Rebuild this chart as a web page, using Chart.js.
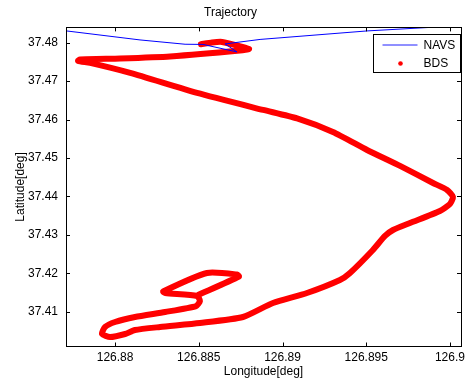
<!DOCTYPE html>
<html>
<head>
<meta charset="utf-8">
<script src="https://cdn.jsdelivr.net/npm/chart.js@4"></script>
<style>
  html, body { margin: 0; padding: 0; background: #fff; }
  #wrap { width: 470px; height: 385px; }
</style>
</head>
<body>
<div id="wrap"><canvas id="myChart" width="470" height="385"></canvas></div>
<script>
// NAVS reference track (only the part that crosses the plot)
const navsLon = [126.87660, 126.87710, 126.88149, 126.88418, 126.88525, 126.88728, 126.88657, 126.88866, 126.89505, 126.89881, 126.90120];
const navsLat = [37.48320, 37.48304, 37.48070, 37.47958, 37.47953, 37.47758, 37.47966, 37.48083, 37.48304, 37.48396, 37.48461];

// BDS track
const bdsLon = [126.88513, 126.88579, 126.88639, 126.88800, 126.88746, 126.88328, 126.88030, 126.87791, 126.87779, 126.87851,
                126.88090, 126.88490, 126.88884, 126.89087, 126.89301, 126.89505, 126.89702, 126.89899, 126.89983, 126.90018,
                126.90000, 126.89940, 126.89761, 126.89660, 126.89612, 126.89540, 126.89403, 126.89343, 126.89146, 126.88943,
                126.88764, 126.88507, 126.88269, 126.88119, 126.88060, 126.87970, 126.87922, 126.87940, 126.88000, 126.88119,
                126.88299, 126.88484, 126.88507, 126.88490, 126.88299, 126.88287, 126.88549, 126.88728, 126.88740, 126.88496];
const bdsLat = [37.47958, 37.48005, 37.48018, 37.47836, 37.47794, 37.47641, 37.47589, 37.47563, 37.47524, 37.47472,
                37.47212, 37.46691, 37.46249, 37.46028, 37.45676, 37.45208, 37.44792, 37.44349, 37.44167, 37.43985,
                37.43803, 37.43620, 37.43308, 37.43126, 37.42970, 37.42606, 37.42007, 37.41825, 37.41487, 37.41227,
                37.40862, 37.40706, 37.40602, 37.40524, 37.40420, 37.40342, 37.40420, 37.40602, 37.40732, 37.40862,
                37.40992, 37.41148, 37.41279, 37.41409, 37.41487, 37.41526, 37.42007, 37.41968, 37.41916, 37.41435];

const xTicks = [126.88, 126.885, 126.89, 126.895, 126.9];
const xTickLabels = ['126.88', '126.885', '126.89', '126.895', '126.9'];
const yTicks = [37.41, 37.42, 37.43, 37.44, 37.45, 37.46, 37.47, 37.48];
const yTickLabels = ['37.41', '37.42', '37.43', '37.44', '37.45', '37.46', '37.47', '37.48'];

const FONT = 'Liberation Sans, Arial, Helvetica, sans-serif';

function toPoints(xs, ys) {
    return xs.map((x, i) => ({ x: x, y: ys[i] }));
}

// matlab style box with inward ticks + legend inside the axes
const boxPlugin = {
    id: 'box',
    afterDraw(chart) {
        const ctx = chart.ctx;
        const a = chart.chartArea;
        const xs = chart.scales.x, ys = chart.scales.y;
        ctx.save();
        ctx.strokeStyle = '#000';
        ctx.lineWidth = 1;
        ctx.strokeRect(Math.round(a.left) + 0.5, Math.round(a.top) + 0.5,
                       Math.round(a.right - a.left), Math.round(a.bottom - a.top));
        ctx.beginPath();
        xTicks.forEach(v => {
            const px = Math.round(xs.getPixelForValue(v)) + 0.5;
            ctx.moveTo(px, a.bottom); ctx.lineTo(px, a.bottom - 4);
            ctx.moveTo(px, a.top); ctx.lineTo(px, a.top + 4);
        });
        yTicks.forEach(v => {
            const py = Math.round(ys.getPixelForValue(v)) + 0.5;
            ctx.moveTo(a.left, py); ctx.lineTo(a.left + 4, py);
            ctx.moveTo(a.right, py); ctx.lineTo(a.right - 4, py);
        });
        ctx.stroke();

        // legend
        const lx = Math.round(a.right) - 88 + 0.5, ly = Math.round(a.top) + 7 + 0.5;
        ctx.fillStyle = '#fff';
        ctx.fillRect(lx, ly, 87, 38);
        ctx.strokeRect(lx, ly, 87, 38);
        ctx.strokeStyle = '#2020ff';
        ctx.beginPath();
        ctx.moveTo(lx + 9, ly + 10.5); ctx.lineTo(lx + 44, ly + 10.5);
        ctx.stroke();
        ctx.fillStyle = '#ff0000';
        ctx.beginPath();
        ctx.arc(lx + 27, ly + 29, 2.3, 0, Math.PI * 2);
        ctx.fill();
        ctx.fillStyle = '#000';
        ctx.font = '12px ' + FONT;
        ctx.textBaseline = 'middle';
        ctx.textAlign = 'left';
        ctx.fillText(chart.data.datasets[0].label, lx + 50, ly + 11);
        ctx.fillText(chart.data.datasets[1].label, lx + 50, ly + 29);
        ctx.restore();
    }
};

const ctx = document.getElementById('myChart').getContext('2d');
new Chart(ctx, {
    type: 'scatter',
    data: {
        datasets: [{
            label: 'NAVS',
            data: toPoints(navsLon, navsLat),
            showLine: true,
            borderColor: '#0000ff',
            borderWidth: 1,
            pointRadius: 0,
            clip: 0
        }, {
            label: 'BDS',
            data: toPoints(bdsLon, bdsLat),
            showLine: true,
            borderColor: '#ff0000',
            borderWidth: 6,
            borderJoinStyle: 'round',
            borderCapStyle: 'round',
            pointRadius: 0,
            tension: 0.2
        }]
    },
    options: {
        responsive: false,
        animation: false,
        layout: { padding: { left: 0, right: 9, top: 0, bottom: 0 } },
        plugins: {
            legend: { display: false },
            tooltip: { enabled: false },
            title: {
                display: true,
                text: 'Trajectory',
                color: '#000',
                font: { family: FONT, size: 12, weight: 'normal' },
                padding: { top: 5.5, bottom: 7.5 }
            }
        },
        scales: {
            x: {
                type: 'linear',
                min: 126.87707,
                max: 126.90066,
                grid: { display: false, drawTicks: false },
                border: { display: false },
                afterBuildTicks: s => { s.ticks = xTicks.map(v => ({ value: v })); },
                afterFit: s => { s.height = 38.5; },
                ticks: {
                    color: '#000',
                    padding: 4,
                    maxRotation: 0,
                    autoSkip: false,
                    font: { family: FONT, size: 12 },
                    callback: (v, i) => xTickLabels[i]
                },
                title: {
                    display: true,
                    text: 'Longitude[deg]',
                    color: '#000',
                    font: { family: FONT, size: 12 },
                    padding: { top: 0, bottom: 6 }
                }
            },
            y: {
                type: 'linear',
                min: 37.40095,
                max: 37.48396,
                grid: { display: false, drawTicks: false },
                border: { display: false },
                afterBuildTicks: s => { s.ticks = yTicks.map(v => ({ value: v })); },
                afterFit: s => { s.width = 66; },
                ticks: {
                    color: '#000',
                    padding: 8,
                    autoSkip: false,
                    font: { family: FONT, size: 12 },
                    callback: (v, i) => yTickLabels[i]
                },
                title: {
                    display: true,
                    text: 'Latitude[deg]',
                    color: '#000',
                    font: { family: FONT, size: 12 },
                    padding: { top: 13, bottom: 0 }
                }
            }
        }
    },
    plugins: [boxPlugin]
});
</script>
</body>
</html>
